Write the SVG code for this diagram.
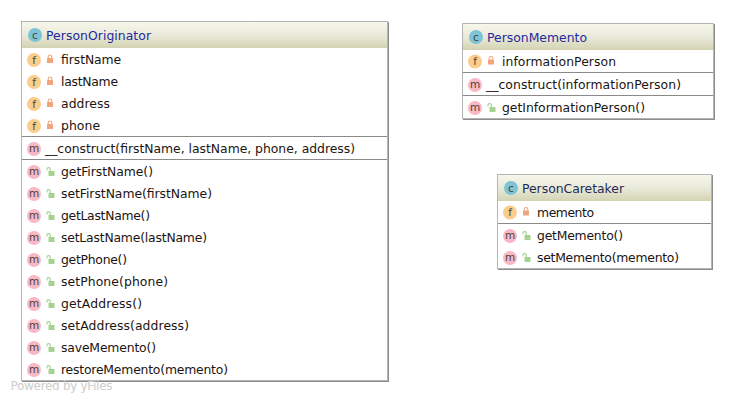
<svg xmlns="http://www.w3.org/2000/svg" width="735" height="402" viewBox="0 0 735 402">
<style>
text{font-family:"DejaVu Sans",sans-serif;font-size:12.4px;fill:#1c1410}
.t{fill:#1f2a9e}.t2{fill:#1d2a55}
.box{fill:#fff;stroke:#b4b4b4;stroke-width:1}
.sh{fill:#8c8c8c}
.sep{stroke:#8a8a8a;stroke-width:1}
.ic{font-size:10.500px;fill:#4a4238;text-anchor:middle}
.pw{fill:#cdcdcd;font-size:12px;font-family:"DejaVu Sans",sans-serif}
</style>
<defs>
<linearGradient id="hd" x1="0" y1="0" x2="0" y2="1"><stop offset="0" stop-color="#f6f6ea"/><stop offset=".5" stop-color="#eaeadb"/><stop offset="1" stop-color="#d3d3b2"/></linearGradient>
<g id="lockr"><rect x="-3" y="-1" width="6" height="5" rx=".6" fill="#f2a47c"/><path d="M-1.800-1v-1.200a1.800 1.800 0 0 1 3.600 0V-1" fill="none" stroke="#f2a47c" stroke-width="1.100"/></g>
<g id="lockg"><rect x="-2" y="-.5" width="6" height="5" rx=".6" fill="#a5d191"/><path d="M-3.600-1v-1.200a1.700 1.700 0 0 1 3.400 0V0" fill="none" stroke="#a5d191" stroke-width="1.100"/></g>
<circle id="cf" r="7" fill="#fbcd8c"/>
<circle id="cm" r="7" fill="#f9b8c4"/>
<circle id="cc" r="7" fill="#7cc4d6"/>
</defs>
<g id="connectors"/>
<g id="PersonOriginator">
<rect class="sh" x="22" y="22" width="367" height="360"/>
<rect class="box" x="21.500" y="21.500" width="366" height="359"/>
<rect x="22" y="22" width="365" height="26" fill="url(#hd)"/>
<use href="#cc" x="35" y="35"/><text class="ic" x="35" y="38.500">c</text>
<text class="t" x="46" y="40" textLength="105">PersonOriginator</text>
<use href="#cf" x="34" y="60"/><text class="ic" x="34" y="63.500">f</text><use href="#lockr" x="50" y="59"/><text x="61" y="64" textLength="60">firstName</text>
<use href="#cf" x="34" y="82"/><text class="ic" x="34" y="85.500">f</text><use href="#lockr" x="50" y="81"/><text x="61" y="86" textLength="57">lastName</text>
<use href="#cf" x="34" y="104"/><text class="ic" x="34" y="107.500">f</text><use href="#lockr" x="50" y="103"/><text x="61" y="108" textLength="49">address</text>
<use href="#cf" x="34" y="126"/><text class="ic" x="34" y="129.500">f</text><use href="#lockr" x="50" y="125"/><text x="61" y="130" textLength="39">phone</text>
<line class="sep" x1="22" y1="136.500" x2="387" y2="136.500"/>
<use href="#cm" x="34" y="149"/><text class="ic" x="34" y="152">m</text><text x="45" y="153" textLength="310">__construct(firstName, lastName, phone, address)</text>
<line class="sep" x1="22" y1="159.500" x2="387" y2="159.500"/>
<use href="#cm" x="34" y="172"/><text class="ic" x="34" y="175">m</text><use href="#lockg" x="50.500" y="171.500"/><text x="61" y="176" textLength="92">getFirstName()</text>
<use href="#cm" x="34" y="194"/><text class="ic" x="34" y="197">m</text><use href="#lockg" x="50.500" y="193.500"/><text x="61" y="198" textLength="151">setFirstName(firstName)</text>
<use href="#cm" x="34" y="216"/><text class="ic" x="34" y="219">m</text><use href="#lockg" x="50.500" y="215.500"/><text x="61" y="220" textLength="89">getLastName()</text>
<use href="#cm" x="34" y="238"/><text class="ic" x="34" y="241">m</text><use href="#lockg" x="50.500" y="237.500"/><text x="61" y="242" textLength="146">setLastName(lastName)</text>
<use href="#cm" x="34" y="260"/><text class="ic" x="34" y="263">m</text><use href="#lockg" x="50.500" y="259.500"/><text x="61" y="264" textLength="66">getPhone()</text>
<use href="#cm" x="34" y="282"/><text class="ic" x="34" y="285">m</text><use href="#lockg" x="50.500" y="281.500"/><text x="61" y="286" textLength="107">setPhone(phone)</text>
<use href="#cm" x="34" y="304"/><text class="ic" x="34" y="307">m</text><use href="#lockg" x="50.500" y="303.500"/><text x="61" y="308" textLength="81">getAddress()</text>
<use href="#cm" x="34" y="326"/><text class="ic" x="34" y="329">m</text><use href="#lockg" x="50.500" y="325.500"/><text x="61" y="330" textLength="128">setAddress(address)</text>
<use href="#cm" x="34" y="348"/><text class="ic" x="34" y="351">m</text><use href="#lockg" x="50.500" y="347.500"/><text x="61" y="352" textLength="95">saveMemento()</text>
<use href="#cm" x="34" y="370"/><text class="ic" x="34" y="373">m</text><use href="#lockg" x="50.500" y="369.500"/><text x="61" y="374" textLength="167">restoreMemento(memento)</text>
</g>
<g id="PersonMemento">
<rect class="sh" x="463" y="24" width="252" height="96"/>
<rect class="box" x="462.500" y="23.500" width="251" height="95"/>
<rect x="463" y="24" width="250" height="26" fill="url(#hd)"/>
<use href="#cc" x="476" y="37"/><text class="ic" x="476" y="40.500">c</text>
<text class="t" x="487" y="42" textLength="100">PersonMemento</text>
<use href="#cf" x="475" y="61.500"/><text class="ic" x="475" y="65">f</text><use href="#lockr" x="491" y="60.500"/><text x="502" y="66" textLength="114">informationPerson</text>
<line class="sep" x1="463" y1="72.500" x2="713" y2="72.500"/>
<use href="#cm" x="475" y="85"/><text class="ic" x="475" y="88">m</text><text x="486" y="89" textLength="195">__construct(informationPerson)</text>
<line class="sep" x1="463" y1="95.500" x2="713" y2="95.500"/>
<use href="#cm" x="475" y="108"/><text class="ic" x="475" y="111">m</text><use href="#lockg" x="491.500" y="107.500"/><text x="502" y="112" textLength="143">getInformationPerson()</text>
</g>
<g id="PersonCaretaker">
<rect class="sh" x="498" y="175" width="215" height="95"/>
<rect class="box" x="497.500" y="174.500" width="214" height="94"/>
<rect x="498" y="175" width="213" height="26" fill="url(#hd)"/>
<use href="#cc" x="511" y="188"/><text class="ic" x="511" y="191.500">c</text>
<text class="t2" x="522" y="193" textLength="102">PersonCaretaker</text>
<use href="#cf" x="510" y="212.500"/><text class="ic" x="510" y="216">f</text><use href="#lockr" x="526" y="211.500"/><text x="537" y="217" textLength="57">memento</text>
<line class="sep" x1="498" y1="223.500" x2="711" y2="223.500"/>
<use href="#cm" x="510" y="236"/><text class="ic" x="510" y="239">m</text><use href="#lockg" x="526.500" y="235.500"/><text x="537" y="240" textLength="86">getMemento()</text>
<use href="#cm" x="510" y="258"/><text class="ic" x="510" y="261">m</text><use href="#lockg" x="526.500" y="257.500"/><text x="537" y="262" textLength="142">setMemento(memento)</text>
</g>
<text class="pw" x="10.500" y="390" textLength="102">Powered by yFiles</text>
</svg>
